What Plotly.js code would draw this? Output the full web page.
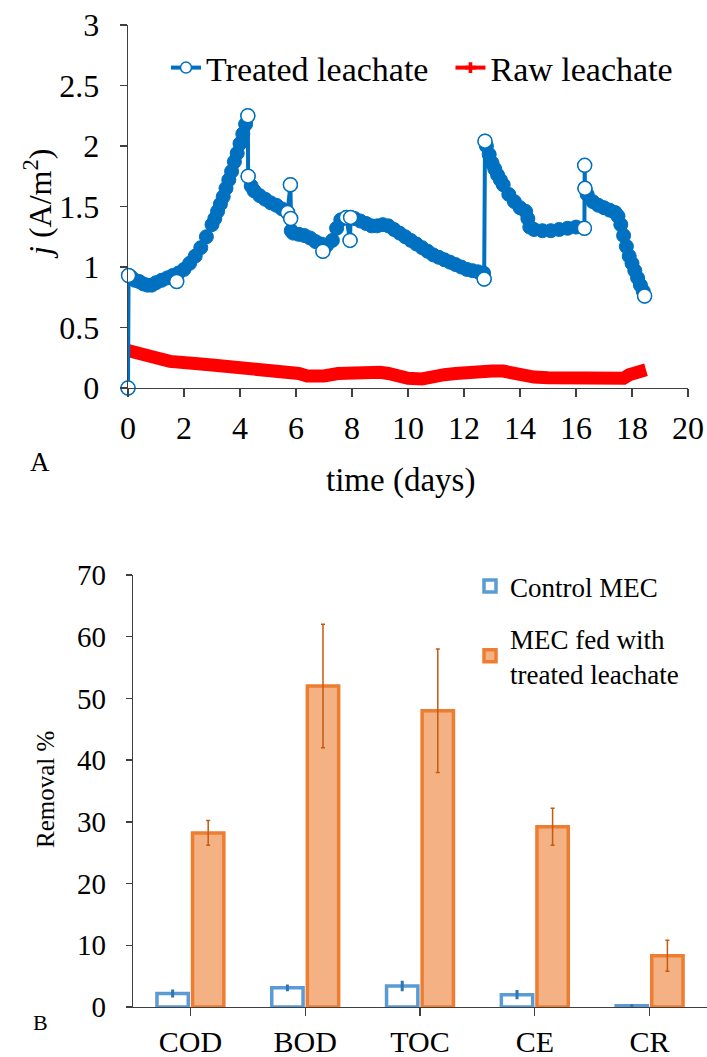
<!DOCTYPE html>
<html>
<head>
<meta charset="utf-8">
<script src="https://cdn.plot.ly/plotly-3.0.1.min.js"></script>
<style>html,body{margin:0;padding:0;background:#fff;}#chart{width:707px;height:1057px;}</style>
</head>
<body>
<div id="chart"></div>
<script>
// ---------- Panel A data ----------
const treatedTime = [0,0.02,0.1,0.25,0.4,0.55,0.7,0.85,1.0,1.2,1.4,1.6,1.74,1.8,2.0,2.2,2.4,2.6,2.8,
  3.0,3.1,3.2,3.3,3.4,3.5,3.6,3.7,3.8,3.9,4.0,4.1,4.2,4.28,4.29,4.4,4.5,4.7,4.9,5.1,5.3,5.5,5.7,5.8,5.81,5.83,
  5.9,6.1,6.3,6.5,6.7,6.9,6.96,7.1,7.3,7.45,7.6,7.8,7.93,7.95,8.1,8.3,8.5,8.7,8.9,9.1,9.3,9.5,9.7,9.9,
  10.1,10.3,10.5,10.7,10.9,11.1,11.3,11.5,11.7,11.9,12.1,12.3,12.5,12.7,12.72,12.75,12.8,12.9,13.0,13.1,13.2,
  13.3,13.4,13.6,13.8,14.0,14.2,14.28,14.35,14.5,14.8,15.1,15.4,15.7,16.0,16.3,16.31,16.32,16.4,16.6,16.8,
  17.0,17.2,17.4,17.5,17.6,17.7,17.8,17.9,18.0,18.1,18.2,18.3,18.4,18.45];
const treatedJ = [0,0.93,0.92,0.89,0.88,0.86,0.85,0.85,0.87,0.89,0.91,0.93,0.88,0.95,0.98,1.03,1.09,1.16,1.25,
  1.35,1.40,1.46,1.52,1.58,1.65,1.72,1.79,1.87,1.94,2.02,2.10,2.18,2.25,1.75,1.67,1.63,1.59,1.56,1.53,1.51,1.48,1.45,1.68,1.40,1.30,
  1.28,1.27,1.26,1.24,1.21,1.19,1.13,1.18,1.22,1.32,1.39,1.41,1.22,1.41,1.40,1.38,1.36,1.34,1.34,1.35,1.34,1.31,1.28,1.25,
  1.22,1.19,1.16,1.13,1.10,1.08,1.06,1.04,1.02,1.00,0.98,0.97,0.96,0.95,0.90,2.04,2.00,1.93,1.86,1.81,1.76,
  1.72,1.68,1.60,1.54,1.49,1.46,1.40,1.33,1.31,1.30,1.30,1.31,1.32,1.33,1.32,1.84,1.65,1.60,1.54,1.51,
  1.49,1.47,1.45,1.42,1.35,1.26,1.17,1.09,1.03,0.97,0.91,0.85,0.80,0.76];

const rawTime = [0,0.25,0.5,0.75,1.0,1.5,2.0,2.5,3.0,3.5,4.0,4.5,5.0,5.5,5.8,6.1,6.4,6.7,7.0,7.5,8.0,8.5,9.0,9.3,9.6,
  10.0,10.5,10.9,11.3,11.7,12.0,12.5,13.0,13.4,13.7,14.0,14.5,15.0,15.5,16.0,16.5,17.0,17.5,17.7,17.9,18.1,18.3,18.5];
const rawJ = [0.31,0.30,0.29,0.27,0.25,0.22,0.20,0.20,0.19,0.18,0.17,0.16,0.155,0.15,0.14,0.12,0.10,0.09,0.10,0.12,0.13,0.13,0.13,0.12,0.10,
  0.08,0.075,0.08,0.11,0.12,0.13,0.13,0.14,0.14,0.12,0.10,0.09,0.085,0.08,0.08,0.075,0.07,0.07,0.08,0.11,0.13,0.14,0.15];

const xTicksA = [0,2,4,6,8,10,12,14,16,18,20];
const yTicksA = [0,0.5,1,1.5,2,2.5,3];

// ---------- Panel B data ----------
const categories = ['COD','BOD','TOC','CE','CR'];
const controlRemoval = [2.2,3.1,3.4,2.0,0.2];
const controlErr = [0.4,0.3,0.6,0.5,0];
const treatedRemoval = [28.2,52.0,48.0,29.2,8.3];
const treatedErr = [2.0,10.0,10.0,3.0,2.5];
const yTicksB = [0,10,20,30,40,50,60,70];

// ---------- helpers ----------
const W = 707, H = 1057;
const px = v => v / W, py = v => (H - v) / H;
const FONT = '"Liberation Serif", "Times New Roman", serif';
const f = (size) => ({family:FONT, size:size, color:'#000'});

// points of the treated series that stand apart from a neighbour (drawn as visible open circles)
const xA0 = 128, xA1 = 688, yA0 = 388, yA1 = 25;
function toPx(t, j){ return [xA0 + t/20*(xA1-xA0), yA0 - j/3*(yA0-yA1)]; }
const isoX = [], isoY = [];
for (let i = 0; i < treatedTime.length; i++) {
  const p = toPx(treatedTime[i], treatedJ[i]);
  let far = (i === 0 || i === treatedTime.length-1);
  [i-1, i+1].forEach(k => {
    if (k < 0 || k >= treatedTime.length) return;
    const q = toPx(treatedTime[k], treatedJ[k]);
    if (Math.hypot(p[0]-q[0], p[1]-q[1]) > 16) far = true;
  });
  if (i > 0 && i < treatedTime.length-1) {
    const a = treatedJ[i-1]-treatedJ[i], b = treatedJ[i+1]-treatedJ[i];
    if (a*b > 0 && Math.min(Math.abs(a),Math.abs(b)) > 0.03) far = true;
  }
  if (far) { isoX.push(treatedTime[i]); isoY.push(treatedJ[i]); }
}

const BLUE = '#0070C0', RED = '#FF0000';
const axisCol = '#3f3f3f';

const traces = [
  { x: rawTime, y: rawJ, type:'scatter', mode:'lines', xaxis:'x', yaxis:'y',
    line:{color:RED, width:13}, showlegend:false, cliponaxis:false, hoverinfo:'skip' },
  { x: treatedTime, y: treatedJ, type:'scatter', mode:'lines+markers', xaxis:'x', yaxis:'y',
    line:{color:BLUE, width:4}, marker:{symbol:'circle', size:14, color:BLUE, line:{color:BLUE, width:1}},
    showlegend:false, cliponaxis:false, hoverinfo:'skip' },
  { x: isoX, y: isoY, type:'scatter', mode:'markers', xaxis:'x', yaxis:'y',
    marker:{symbol:'circle', size:14, color:'#ffffff', line:{color:BLUE, width:1.5}},
    showlegend:false, cliponaxis:false, hoverinfo:'skip' },
  // legend entries for panel A
  { x:[null], y:[null], type:'scatter', mode:'lines+markers', xaxis:'x', yaxis:'y', name:'Treated leachate\u00a0\u00a0',
    line:{color:BLUE, width:4}, marker:{symbol:'circle', size:11, color:'#fff', line:{color:BLUE, width:1.5}}, legend:'legend' },
  { x:[null], y:[null], type:'scatter', mode:'lines+markers', xaxis:'x', yaxis:'y', name:'Raw leachate',
    line:{color:RED, width:4}, marker:{symbol:'cross', size:9, color:RED}, legend:'legend' },
  // panel B
  { x: categories, y: controlRemoval, type:'bar', xaxis:'x2', yaxis:'y2', name:'Control MEC',
    marker:{color:'#ffffff', line:{color:'#5B9BD5', width:3.5}},
    error_y:{type:'data', array:controlErr, visible:true, color:'#2E75B6', thickness:3, width:1.5},
    legend:'legend2', legendgroup:'a' },
  { x: categories, y: treatedRemoval, type:'bar', xaxis:'x2', yaxis:'y2', name:'MEC fed with<br>treated leachate',
    marker:{color:'#F4B183', line:{color:'#ED7D31', width:3.5}},
    error_y:{type:'data', array:treatedErr, visible:true, color:'#C55A11', thickness:1.5, width:2},
    legend:'legend2', legendgroup:'b' }
];

const commonAxis = { showline:true, linecolor:axisCol, linewidth:1.3, ticks:'outside', tickcolor:axisCol,
  tickwidth:1.3, showgrid:false, zeroline:false, fixedrange:true };

const layout = {
  width:W, height:H, margin:{l:0,r:0,t:0,b:0},
  paper_bgcolor:'#fff', plot_bgcolor:'rgba(0,0,0,0)',
  font:f(28),
  barmode:'group', bargap:0.38, bargroupgap:0.12,
  xaxis: Object.assign({}, commonAxis, { domain:[px(xA0), px(xA1)], range:[0,20], anchor:'y',
    tickmode:'array', tickvals:xTicksA, ticklen:8, tickfont:f(32), ticklabelstandoff:3 }),
  yaxis: Object.assign({}, commonAxis, { domain:[py(yA0), py(yA1)], range:[0,3], anchor:'x',
    tickmode:'array', tickvals:yTicksA, ticktext:yTicksA.map(String), ticklen:7, tickfont:f(32), ticklabelstandoff:14 }),
  xaxis2: Object.assign({}, commonAxis, { domain:[px(133), 1], anchor:'y2', type:'category',
    range:[-0.5,4.5], ticklen:8, tickfont:f(30), ticklabelstandoff:0 }),
  yaxis2: Object.assign({}, commonAxis, { domain:[py(1007), py(575)], range:[0,70], anchor:'x2',
    tickmode:'array', tickvals:yTicksB, ticklen:6, tickfont:f(29), ticklabelstandoff:14 }),
  legend: { orientation:'h', x:px(166), y:py(68), xanchor:'left', yanchor:'middle',
    font:f(34), bgcolor:'rgba(0,0,0,0)', itemwidth:30, traceorder:'normal' },
  legend2: { x:px(470), y:py(562), xanchor:'left', yanchor:'top', font:f(27),
    bgcolor:'rgba(0,0,0,0)', traceorder:'grouped', tracegroupgap:14, itemwidth:30 },
  annotations: [
    { text:'time (days)', x:px(400), y:py(481), xref:'paper', yref:'paper', xanchor:'center', yanchor:'middle', showarrow:false, font:f(33) },
    { text:'<i>j</i> (A/m<sup>2</sup>)', x:px(38), y:py(204), xref:'paper', yref:'paper', xanchor:'center', yanchor:'middle', showarrow:false, textangle:-90, font:f(32) },
    { text:'A', x:px(40), y:py(462), xref:'paper', yref:'paper', xanchor:'center', yanchor:'middle', showarrow:false, font:f(27) },
    { text:'Removal %', x:px(45), y:py(790), xref:'paper', yref:'paper', xanchor:'center', yanchor:'middle', showarrow:false, textangle:-90, font:f(25) },
    { text:'B', x:px(40), y:py(1022), xref:'paper', yref:'paper', xanchor:'center', yanchor:'middle', showarrow:false, font:f(22) }
  ]
};

Plotly.newPlot('chart', traces, layout, {displayModeBar:false, staticPlot:true});
</script>
</body>
</html>
